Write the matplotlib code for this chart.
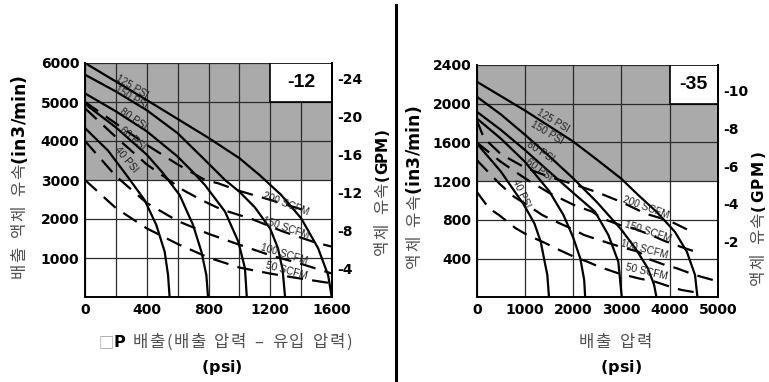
import matplotlib
matplotlib.use('Agg')
import matplotlib.pyplot as plt
from matplotlib.patches import Rectangle
from matplotlib.transforms import IdentityTransform

# ---------------- data: -12 chart (left) ----------------
# psi curves (x = delta P psi, y = in3/min)
l_125_x = [0, 400, 800, 1000, 1130, 1270, 1400, 1510, 1575, 1598]
l_125_y = [6000, 5050, 4080, 3560, 3130, 2620, 2020, 1250, 560, 0]
l_150_x = [0, 200, 400, 600, 777, 907, 1000, 1100, 1200, 1250, 1280, 1296]
l_150_y = [5700, 5270, 4790, 4200, 3513, 3000, 2700, 2300, 1750, 1250, 700, 0]
l_80_x = [0, 200, 400, 600, 700, 777, 907, 993, 1036, 1048]
l_80_y = [5220, 4760, 4250, 3600, 3200, 2870, 2190, 1420, 740, 0]
l_60_x = [0, 200, 400, 500, 613, 700, 754, 786, 797]
l_60_y = [4950, 4350, 3650, 3200, 2615, 1846, 1162, 564, 0]
l_40_x = [0, 150, 268, 386, 462, 516, 538, 548]
l_40_y = [4330, 3750, 3128, 2487, 1846, 1162, 564, 0]
# scfm curves (dashed)
l_s200_x = [0, 200, 400, 600, 777, 863, 1000, 1200, 1400, 1450]
l_s200_y = [5000, 4450, 3900, 3400, 3000, 2915, 2720, 2490, 2250, 2190]
l_s150_x = [0, 200, 400, 635, 754, 880, 1080, 1285, 1490, 1600]
l_s150_y = [4840, 4100, 3400, 2743, 2487, 2250, 2000, 1675, 1400, 1290]
l_s100_x = [0, 200, 400, 600, 800, 1000, 1200, 1400, 1600]
l_s100_y = [4000, 3100, 2410, 1950, 1620, 1340, 1070, 850, 600]
l_s50_x = [0, 200, 400, 600, 800, 1000, 1200, 1400, 1600]
l_s50_y = [3000, 2280, 1760, 1360, 1010, 755, 600, 470, 350]

l_psi_names = ['125 PSI', '150 PSI', '80 PSI', '60 PSI', '40 PSI']
l_psi_pos = [(304, 5384, -31), (298, 5102, -31), (311, 4564, -34), (311, 4077, -40), (266, 3513, -50)]
l_scfm_names = ['200 SCFM', '150 SCFM', '100 SCFM', '50 SCFM']
l_scfm_pos = [(1302, 2385, -21), (1302, 1769, -19), (1289, 1102, -17), (1302, 666, -15)]

l_xticks = [0, 400, 800, 1200, 1600]
l_yticks = [1000, 2000, 3000, 4000, 5000, 6000]
l_gpm_ticks = [4, 8, 12, 16, 20, 24]
l_shade = [3000, 6000]
l_box = [1200, 5000, 400, 1000]

# ---------------- data: -35 chart (right) ----------------
r_125_x = [0, 1000, 2000, 2500, 3000, 3350, 3730, 4110, 4360, 4530, 4580]
r_125_y = [2228, 1930, 1610, 1420, 1225, 1057, 884, 678, 471, 230, 0]
r_150_x = [0, 500, 1000, 1500, 2000, 2500, 3000, 3300, 3550, 3680, 3730]
r_150_y = [2073, 1890, 1680, 1460, 1230, 980, 700, 500, 300, 130, 0]
r_80_x = [0, 500, 1000, 1500, 2000, 2455, 2731, 2938, 3010]
r_80_y = [1918, 1730, 1522, 1300, 1080, 884, 644, 368, 0]
r_60_x = [0, 500, 1000, 1500, 1800, 2000, 2150, 2230, 2250]
r_60_y = [1849, 1640, 1400, 1100, 850, 620, 400, 180, 0]
r_40_x = [0, 500, 982, 1200, 1328, 1465, 1500]
r_40_y = [1591, 1300, 954, 760, 574, 230, 0]
r_s200_x = [0, 150, 500, 1000, 1500, 2000, 2500, 3000, 3500, 4000, 4460]
r_s200_y = [1830, 1645, 1480, 1340, 1245, 1170, 1085, 985, 865, 790, 678]
r_s150_x = [0, 500, 1000, 1500, 2019, 2399, 2594, 2973, 3250, 3631, 3907, 4322, 4550]
r_s150_y = [1600, 1400, 1230, 1080, 953, 884, 816, 747, 713, 640, 580, 506, 470]
r_s100_x = [0, 463, 774, 1050, 1361, 1569, 1951, 2226, 2538, 2973, 3354, 3596, 3907, 4150, 4530, 5000]
r_s100_y = [1419, 1178, 1039, 953, 850, 798, 713, 644, 592, 523, 471, 390, 334, 300, 230, 165]
r_s50_x = [0, 255, 463, 809, 1050, 1432, 1639, 2019, 2295, 2538, 2938, 3354, 3700, 4011, 4254, 4669]
r_s50_y = [1091, 919, 850, 713, 644, 558, 506, 419, 368, 316, 248, 196, 161, 110, 75, 41]

r_psi_names = ['125 PSI', '150 PSI', '80 PSI', '60 PSI', '40 PSI']
r_psi_pos = [(1583, 1821, -31), (1459, 1697, -31), (1314, 1501, -33), (1293, 1325, -36), (919, 1077, -65)]
r_scfm_names = ['200 SCFM', '150 SCFM', '100 SCFM', '50 SCFM']
r_scfm_pos = [(3513, 933, -20), (3554, 675, -18), (3471, 499, -15), (3534, 261, -13)]

r_xticks = [0, 1000, 2000, 3000, 4000, 5000]
r_yticks = [400, 800, 1200, 1600, 2000, 2400]
r_gpm_ticks = [2, 4, 6, 8, 10]
r_shade = [1200, 2400]
r_box = [4000, 2000, 1000, 400]

W, H = 769, 382
GRAY = '#aaaaaa'
TXT = '#505050'
KR = ['Noto Sans CJK KR', 'DejaVu Sans']
BOLD = 'DejaVu Sans'

fig = plt.figure(figsize=(W / 100, H / 100), dpi=100)
fig.patch.set_facecolor('white')


def draw_chart(rect, xmax, ymax, xminor, ymajor, xticks, yticks, shade, box, boxtxt,
               solids, dashes, psi_names, psi_pos, scfm_names, scfm_pos,
               gpm_ticks, gpm_lim):
    l, t, r, b = rect
    ax = fig.add_axes([l / W, 1 - b / H, (r - l) / W, (b - t) / H])
    ax.set_xlim(0, xmax)
    ax.set_ylim(0, ymax)
    ax.axhspan(shade[0], shade[1], color=GRAY, zorder=0, lw=0)
    ax.set_xticks(xticks)
    ax.set_xticks(range(0, xmax + 1, xminor), minor=True)
    ax.set_yticks(yticks)
    ax.set_yticks(range(0, ymax + 1, ymajor), minor=True)
    ax.grid(True, which='both', color='#2b2b2b', lw=0.9)
    ax.set_axisbelow(True)
    ax.tick_params(which='both', length=0, pad=4)
    for lab in ax.get_xticklabels() + ax.get_yticklabels():
        lab.set_fontweight('bold')
        lab.set_fontsize(10)
        lab.set_family(BOLD)
    ax.add_patch(Rectangle((box[0], box[1]), box[2], box[3], fc='white', ec='black',
                           lw=1.2, zorder=2))
    ax.text(box[0] + box[2] / 2, box[1] + box[3] / 2, boxtxt, ha='center', va='center',
            fontsize=14, fontweight='bold', family='Liberation Sans', zorder=3)
    for xs, ys in solids:
        ax.plot(xs, ys, color='black', lw=1.6, zorder=4, solid_capstyle='butt')
    for xs, ys in dashes:
        ax.plot(xs, ys, color='black', lw=1.6, dashes=(7.2, 4.2), zorder=4,
                dash_capstyle='butt')
    for name, (x, y, rot) in zip(psi_names + scfm_names, psi_pos + scfm_pos):
        ax.text(x, y, name, rotation=rot, rotation_mode='anchor', ha='center',
                va='center', fontsize=7.3, color='#222222', family='Liberation Sans',
                zorder=5)
    for side in ['left', 'bottom', 'right']:
        ax.spines[side].set_color('black')
        ax.spines[side].set_linewidth(1.4)
    ax.spines['top'].set_visible(False)
    ax.spines['right'].set_zorder(6)

    ax2 = ax.twinx()
    ax2.set_ylim(*gpm_lim)
    ax2.set_yticks(gpm_ticks)
    ax2.set_yticklabels(['-%d' % g for g in gpm_ticks], fontweight='bold', fontsize=10,
                        family=BOLD)
    ax2.tick_params(length=0, pad=4)
    for side in ['left', 'bottom', 'top']:
        ax2.spines[side].set_visible(False)
    ax2.spines['right'].set_linewidth(1.4)
    return ax


draw_chart((85, 63, 332, 297), 1600, 6000, 200, 1000, l_xticks, l_yticks, l_shade, l_box,
           '-12',
           [(l_125_x, l_125_y), (l_150_x, l_150_y), (l_80_x, l_80_y), (l_60_x, l_60_y),
            (l_40_x, l_40_y)],
           [(l_s200_x, l_s200_y), (l_s150_x, l_s150_y), (l_s100_x, l_s100_y),
            (l_s50_x, l_s50_y)],
           l_psi_names, l_psi_pos, l_scfm_names, l_scfm_pos, l_gpm_ticks, (0.98, 25.61))

draw_chart((476.7, 65, 717.7, 297.3), 5000, 2400, 1000, 400, r_xticks, r_yticks, r_shade,
           r_box, '-35',
           [(r_125_x, r_125_y), (r_150_x, r_150_y), (r_80_x, r_80_y), (r_60_x, r_60_y),
            (r_40_x, r_40_y)],
           [(r_s200_x, r_s200_y), (r_s150_x, r_s150_y), (r_s100_x, r_s100_y),
            (r_s50_x, r_s50_y)],
           r_psi_names, r_psi_pos, r_scfm_names, r_scfm_pos, r_gpm_ticks, (-0.95, 11.36))

# divider
fig.add_artist(plt.Line2D([396 / W, 396 / W], [0, 1 - 5 / H], color='black', lw=2.2,
                          transform=fig.transFigure))

renderer = fig.canvas.get_renderer()
ident = IdentityTransform()


def chain(cx, cy, parts, vertical=False):
    # parts: (string, text kwargs, extra px after each char, px for a space)
    # horizontal: cx = centre x, cy = baseline y (pixels from top)
    # vertical: cx = baseline x, cy = centre y
    items = []
    for s, kw, track, space in parts:
        for ch in s:
            if ch == ' ':
                items.append((None, space))
                continue
            t = fig.text(0, 0, ch, transform=ident, rotation=90 if vertical else 0,
                         rotation_mode='anchor', ha='left', va='baseline', **kw)
            bb = t.get_window_extent(renderer)
            items.append((t, (bb.height if vertical else bb.width) + track))
    total = sum(a for _, a in items)
    pos = (H - cy) - total / 2 if vertical else cx - total / 2
    for t, a in items:
        if t is not None:
            t.set_position((cx, pos) if vertical else (pos, H - cy))
        pos += a


light = dict(family=KR, fontsize=12, color=TXT, fontweight='light')
bold_in = dict(family=BOLD, fontsize=12.5, fontweight='bold', color='black')
bold_gpm = dict(family=BOLD, fontsize=11, fontweight='bold', color='black')
bold_psi = dict(family=BOLD, fontsize=11.5, fontweight='bold', color='black')

chain(24, 176, [('배출 액체 유속', light, 1.2, 8), ('(in3/min)', bold_in, 0, 0)],
      vertical=True)
chain(387, 192, [('액체 유속', light, 1.2, 8), ('(GPM)', bold_gpm, 0, 0)], vertical=True)
chain(419, 186, [('액체 유속', light, 1.2, 8), ('(in3/min)', bold_in, 0, 0)], vertical=True)
chain(763, 217, [('액체 유속', light, 1.2, 8), ('(GPM)', bold_gpm, 2, 0)], vertical=True)

chain(226, 347, [('□', dict(family=KR, fontsize=11, color='#999999', fontweight='light'), 0, 0),
                 ('P', dict(family=BOLD, fontsize=11.5, fontweight='bold'), 0, 0),
                 (' 배출(배출 압력 – 유입 압력)', light, 1.5, 7)])
chain(222, 372, [('(psi)', bold_psi, 0, 0)])
chain(616, 347, [('배출 압력', light, 1.5, 8)])
chain(621, 372, [('(psi)', bold_psi, 0, 0)])

fig.savefig('out.png', dpi=100, facecolor='white')
